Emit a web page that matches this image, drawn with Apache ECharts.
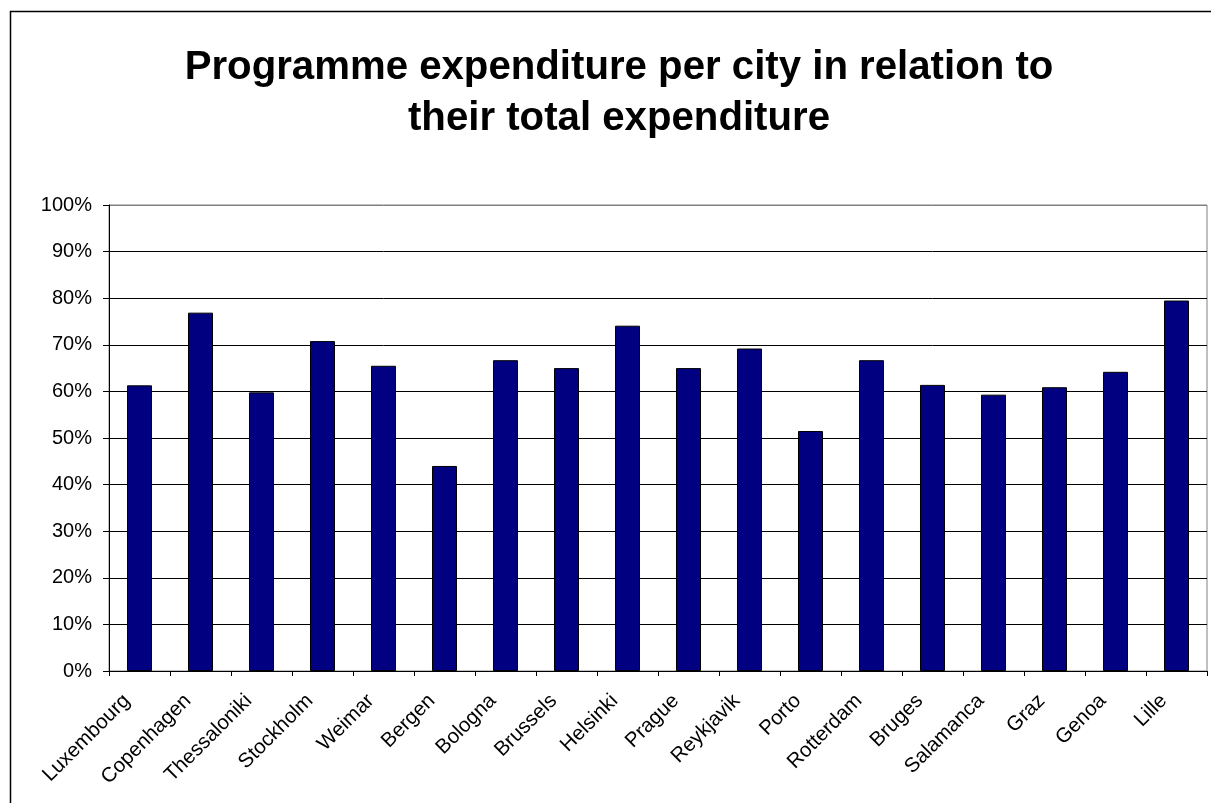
<!DOCTYPE html>
<html>
<head>
<meta charset="utf-8">
<script src="https://cdn.jsdelivr.net/npm/echarts@6/dist/echarts.min.js"></script>
<style>
  html, body { margin: 0; padding: 0; background: #ffffff; }
  #chart { width: 1211px; height: 803px; }
</style>
</head>
<body>
<div id="chart"></div>
<script>
// Share of programme expenditure in each city's total expenditure (%)
const cities = ['Luxembourg', 'Copenhagen', 'Thessaloniki', 'Stockholm', 'Weimar', 'Bergen',
  'Bologna', 'Brussels', 'Helsinki', 'Prague', 'Reykjavik', 'Porto', 'Rotterdam', 'Bruges',
  'Salamanca', 'Graz', 'Genoa', 'Lille'];
const programmeShare = [61.3, 76.9, 59.8, 70.8, 65.5, 44.0, 66.7, 65.0, 74.1, 65.0, 69.2, 51.5,
  66.7, 61.4, 59.3, 60.9, 64.2, 79.5];
const titleLines = ['Programme expenditure per city in relation to', 'their total expenditure'];

const FONT = 'Arial, "Liberation Sans", Helvetica, sans-serif';

// gridlines black, the 100% line follows the grey frame of the plot area
const gridColors = ['#000', '#000', '#000', '#000', '#000', '#000', '#000', '#000', '#000', '#000', '#808080'];

const chart = echarts.init(document.getElementById('chart'), null, { renderer: 'canvas' });
chart.setOption({
  backgroundColor: '#ffffff',
  animation: false,
  title: {
    text: titleLines.join('\n'),
    left: 614,
    top: 37,
    textAlign: 'center',
    textStyle: {
      fontFamily: FONT,
      fontSize: 40.2,
      fontWeight: 'bold',
      color: '#000',
      lineHeight: 51
    }
  },
  graphic: [{
    type: 'rect',
    shape: { x: 10.5, y: 11.5, width: 1400, height: 1000 },
    style: { fill: null, stroke: '#000', lineWidth: 1.5 },
    silent: true,
    z: -10
  }],
  grid: {
    left: 109,
    top: 205,
    right: 4,
    bottom: 132,
    show: true,
    borderColor: '#808080',
    borderWidth: 1,
    backgroundColor: 'transparent'
  },
  xAxis: {
    type: 'category',
    data: cities,
    axisLine: { lineStyle: { color: '#000', width: 1 } },
    axisTick: { show: true, length: 5, lineStyle: { color: '#000' } },
    axisLabel: {
      interval: 0,
      rotate: 45,
      margin: 14,
      padding: [0, 18, 8, 0],
      fontFamily: FONT,
      fontSize: 20.5,
      color: '#000'
    },
    splitLine: { show: false }
  },
  yAxis: {
    type: 'value',
    min: 0,
    max: 100,
    interval: 10,
    axisLine: { show: true, lineStyle: { color: '#000', width: 1 } },
    axisTick: { show: true, length: 6, lineStyle: { color: '#000' } },
    axisLabel: {
      formatter: '{value}%',
      margin: 17,
      fontFamily: FONT,
      fontSize: 20,
      color: '#000'
    },
    splitLine: { show: true, lineStyle: { color: gridColors, width: 1 } }
  },
  series: [{
    type: 'bar',
    data: programmeShare,
    barWidth: '41%',
    itemStyle: { color: '#000080', borderColor: '#000', borderWidth: 1 }
  }]
});
</script>
</body>
</html>
